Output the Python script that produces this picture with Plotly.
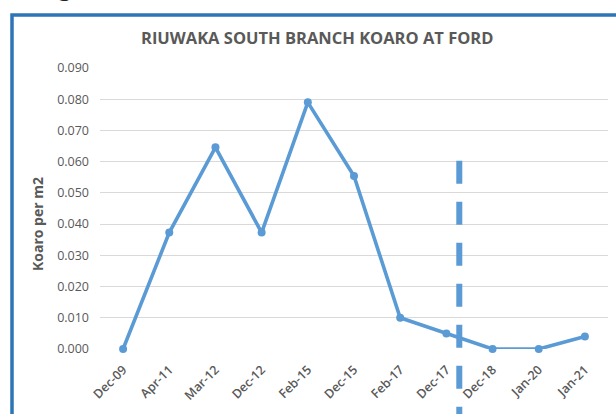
import plotly.graph_objects as go

# ---- data ----
categories = ["Dec-09", "Apr-11", "Mar-12", "Dec-12", "Feb-15", "Dec-15",
              "Feb-17", "Dec-17", "Dec-18", "Jan-20", "Jan-21"]
koaro_per_m2 = [0.0, 0.0373, 0.0646, 0.0373, 0.0790, 0.0554,
                0.0100, 0.0050, 0.0, 0.0, 0.0040]
y_tick_values = [0.00, 0.01, 0.02, 0.03, 0.04, 0.05, 0.06, 0.07, 0.08, 0.09]
divider_position = 7.28   # category index of the vertical dashed marker
divider_top = 0.0603      # value where the dashed marker starts

title_text = "RIUWAKA SOUTH BRANCH KOARO AT FORD"
y_title = "Koaro per m2"

W, H = 616, 414
L, R, T, B = 100, 8, 68, 65
pw, ph = W - L - R, H - T - B
y_max = 0.09

def px_x(px):
    return (px - L) / pw

def px_y(py):
    return (H - B - py) / ph

blue = "#5B9BD5"
grey = "#595959"

fig = go.Figure()
fig.add_trace(go.Scatter(
    x=categories, y=koaro_per_m2, mode="lines+markers",
    line=dict(color=blue, width=3.6),
    marker=dict(color=blue, size=8),
    showlegend=False, cliponaxis=False, hoverinfo="skip",
))

# vertical dashed divider
fig.add_shape(type="line", xref="x", yref="paper",
              x0=divider_position, x1=divider_position,
              y0=divider_top / y_max, y1=px_y(430),
              line=dict(color=blue, width=6, dash="23px,18px"))

# chart border (cut off at right/bottom)
fig.add_shape(type="rect", xref="paper", yref="paper",
              x0=px_x(12), x1=px_x(640), y0=px_y(440), y1=px_y(15),
              line=dict(color="#2E75B6", width=3.5), fillcolor="rgba(0,0,0,0)")

fig.update_layout(
    width=W, height=H,
    margin=dict(l=L, r=R, t=T, b=B),
    paper_bgcolor="white", plot_bgcolor="white",
    font=dict(family="Open Sans", color=grey),
    xaxis=dict(type="category", showgrid=False, showline=False, zeroline=False,
               tickangle=-45, tickfont=dict(size=12.5, color=grey, weight=600),
               ticks="", range=[-0.5, 10.5], ticklabelstandoff=10),
    yaxis=dict(range=[0, y_max], tickvals=y_tick_values, tickformat=".3f",
               showgrid=True, gridcolor="#D9D9D9", gridwidth=1.3,
               zeroline=False, showline=False, ticks="",
               tickfont=dict(size=12.5, color=grey), ticklabelstandoff=10),
    annotations=[
        dict(text="<b>" + title_text + "</b>", xref="paper", yref="paper",
             x=px_x(317), y=px_y(38), xanchor="center", yanchor="middle",
             showarrow=False, font=dict(size=16.5, color=grey, family="Open Sans")),
        dict(text="<b>" + y_title + "</b>", xref="paper", yref="paper",
             x=px_x(37), y=px_y(224), xanchor="center", yanchor="middle",
             textangle=-90, showarrow=False,
             font=dict(size=14, color=grey, family="Open Sans")),
        dict(text="g", xref="paper", yref="paper",
             x=px_x(65), y=px_y(3), xanchor="center", yanchor="bottom",
             showarrow=False, borderpad=0,
             font=dict(size=26, color="#222222", family="DejaVu Serif")),
    ],
)

fig.write_html("out.html", config={"displayModeBar": False},
               post_script="document.body.style.margin='0px';")
